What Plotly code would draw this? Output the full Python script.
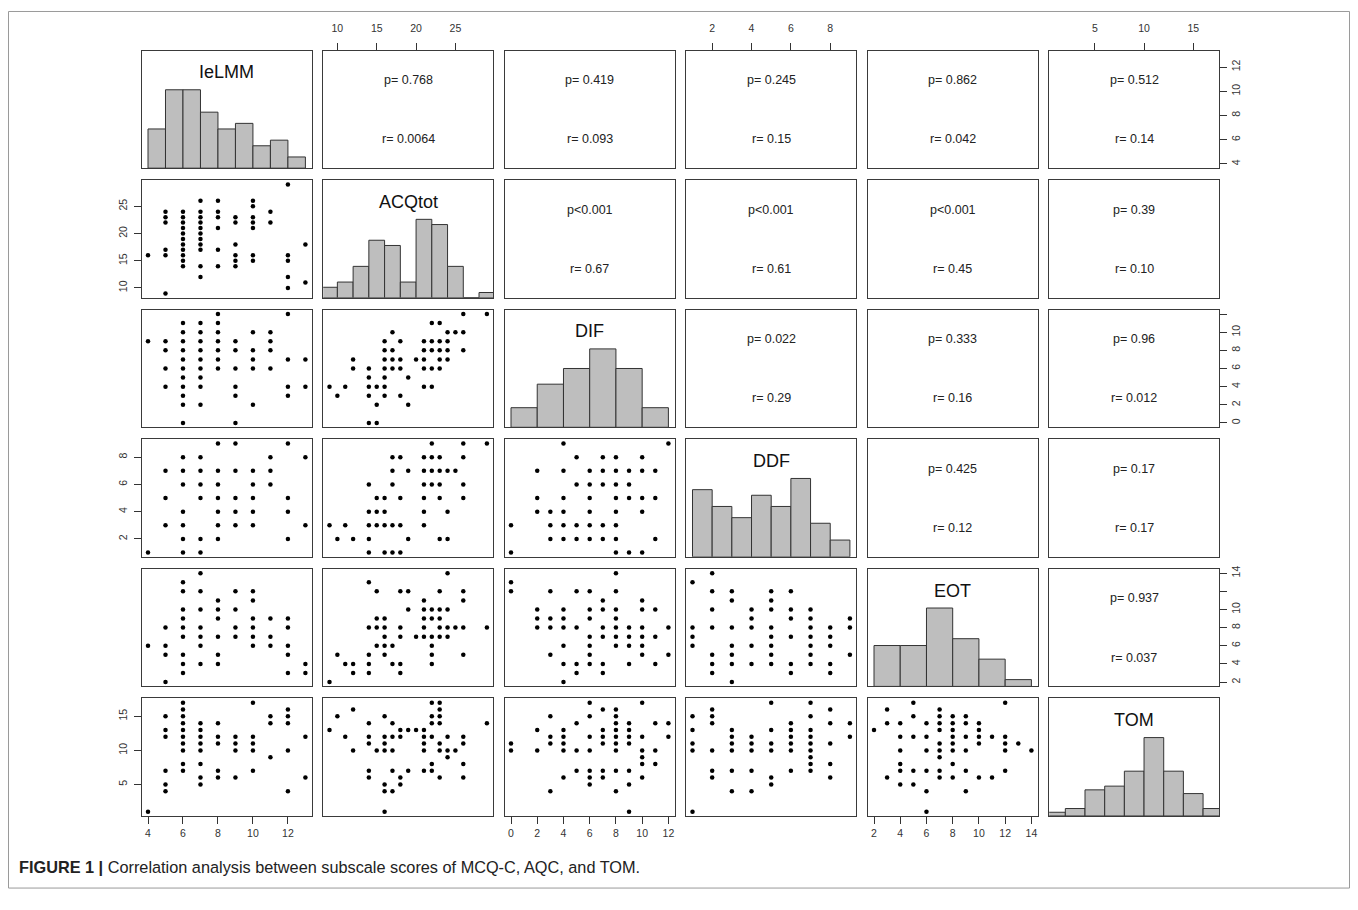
import plotly.graph_objects as go

# ---------------- data ----------------
var_names = ["IeLMM", "ACQtot", "DIF", "DDF", "EOT", "TOM"]
var_min = [4, 9, 0, 1, 2, 1]
var_max = [13, 29, 12, 9, 14, 17]

# histogram breaks (start, step) and counts
hist_start = [4, 8, 0, 1, 2, 0]
hist_step = [1, 2, 2, 1, 2, 2]
IeLMM_counts = [7, 14, 14, 10, 7, 8, 4, 5, 2]
ACQtot_counts = [2, 3, 6, 11, 10, 3, 15, 14, 6, 0, 1]
DIF_counts = [5, 11, 15, 20, 15, 5]
DDF_counts = [12, 9, 7, 11, 9, 14, 6, 3]
EOT_counts = [12, 12, 23, 14, 8, 2]
TOM_counts = [1, 2, 7, 8, 12, 21, 12, 6, 2]
hist_counts = [IeLMM_counts, ACQtot_counts, DIF_counts, DDF_counts, EOT_counts, TOM_counts]

# tick values and labels per variable
IeLMM_ticks = [4, 6, 8, 10, 12]
ACQtot_ticks = [10, 15, 20, 25]
DIF_ticks = [0, 2, 4, 6, 8, 10, 12]
DDF_ticks = [2, 4, 6, 8]
EOT_ticks = [2, 4, 6, 8, 10, 12, 14]
TOM_ticks = [5, 10, 15]
var_ticks = [IeLMM_ticks, ACQtot_ticks, DIF_ticks, DDF_ticks, EOT_ticks, TOM_ticks]
# labels that R drops on the vertical (right) axis because they overlap
right_dropped = {2: [12], 4: [12]}

# scatter points: {x value: [y values]}
IeLMM_ACQ = {4: [16], 5: [24, 23, 22, 17, 16, 9], 6: [24, 23, 22, 21, 20, 19, 18, 17, 16, 15, 14],
             7: [26, 24, 23, 22, 21, 20, 19, 18, 17, 14, 12], 8: [26, 24, 23, 21, 17, 14],
             9: [23, 22, 18, 16, 15, 14], 10: [26, 25, 23, 22, 21, 16, 15], 11: [24, 22],
             12: [29, 16, 15, 12, 10], 13: [18, 11]}
IeLMM_DIF = {4: [9], 5: [9, 8, 6, 4], 6: [11, 10, 9, 8, 7, 6, 5, 4, 3, 2, 0],
             7: [11, 10, 9, 8, 7, 6, 5, 4, 2], 8: [12, 11, 10, 9, 8, 7, 6], 9: [9, 8, 6, 4, 3, 0],
             10: [10, 8, 7, 6, 2], 11: [10, 9, 8, 6], 12: [12, 7, 4, 3], 13: [7, 4]}
ACQ_DIF = {9: [4], 10: [3], 11: [4], 12: [7, 6], 14: [6, 5, 4, 3, 0], 15: [4, 2, 0],
           16: [9, 8, 7, 6, 5, 4, 3], 17: [10, 8, 7, 6], 18: [9, 7, 6, 3], 19: [5, 2], 20: [7],
           21: [9, 8, 7, 6, 4], 22: [11, 9, 8, 6, 4], 23: [11, 9, 8, 7, 6], 24: [10, 9, 8, 7],
           25: [10], 26: [12, 10, 8], 29: [12]}
IeLMM_DDF = {4: [1], 5: [7, 5, 3], 6: [8, 7, 6, 4, 3, 2, 1], 7: [8, 7, 6, 5, 2, 1],
             8: [9, 7, 6, 5, 4, 3, 2], 9: [9, 7, 5, 4, 3], 10: [7, 6, 5, 4, 3], 11: [8, 7, 6],
             12: [9, 5, 4, 2], 13: [8, 3]}
ACQ_DDF = {9: [3], 10: [2], 11: [3], 12: [2], 14: [6, 4, 3, 2, 1], 15: [5, 4, 3], 16: [5, 4, 3, 1],
           17: [8, 7, 6, 3, 1], 18: [8, 5, 3, 1], 19: [7, 2], 21: [8, 7, 6, 5, 4, 3], 22: [9, 8, 7, 6],
           23: [8, 7, 6, 5, 2], 24: [7, 4, 2], 25: [7], 26: [9, 8, 6, 5], 29: [9]}
DIF_DDF = {0: [3, 1], 2: [7, 5, 4], 3: [4, 3, 2], 4: [9, 7, 5, 4, 3, 2], 5: [8, 6, 3, 2],
           6: [7, 6, 5, 4, 3, 2], 7: [8, 7, 6, 3, 2], 8: [8, 7, 6, 5, 4, 3, 2, 1], 9: [7, 6, 5, 1],
           10: [8, 7, 5, 4, 1], 11: [7, 5, 2], 12: [9]}
IeLMM_EOT = {4: [6], 5: [8, 6, 5, 2], 6: [13, 12, 10, 9, 8, 7, 5, 4, 3], 7: [14, 12, 10, 8, 7, 6, 4],
             8: [11, 10, 9, 7, 5, 4], 9: [12, 10, 8, 7], 10: [12, 11, 9, 8, 7, 6], 11: [9, 7, 6],
             12: [9, 8, 6, 5, 3], 13: [4, 3]}
ACQ_EOT = {9: [2], 10: [5], 11: [4], 12: [4, 3], 14: [13, 8, 5, 4, 3], 15: [12, 9, 8, 6],
           16: [9, 8, 7, 6, 5], 17: [6, 4], 18: [12, 8, 7, 4, 3], 19: [12, 10], 20: [7],
           21: [11, 10, 9, 8, 7], 22: [10, 9, 7, 6, 5, 4], 23: [12, 10, 9, 8, 7], 24: [14, 10, 8, 7],
           25: [8], 26: [12, 11, 8, 5], 29: [8]}
DIF_EOT = {0: [13, 12], 2: [10, 9, 8], 3: [12, 9, 8, 5], 4: [10, 9, 8, 6, 4, 2], 5: [12, 8, 4, 3],
           6: [12, 10, 9, 7, 6, 5, 4], 7: [11, 10, 8, 7, 4, 3], 8: [14, 12, 10, 9, 8, 7, 6],
           9: [8, 7, 6, 4], 10: [11, 10, 8, 7, 6, 5], 11: [10, 7, 4], 12: [8, 5]}
DDF_EOT = {1: [13, 8, 7, 6], 2: [14, 12, 10, 8, 5, 4, 3], 3: [12, 11, 8, 6, 5, 4, 2], 4: [10, 9, 8, 6, 4],
           5: [12, 11, 10, 8, 7, 6, 5, 4], 6: [12, 10, 9, 7, 4, 3], 7: [10, 9, 8, 7, 6, 5, 4],
           8: [8, 7, 6, 4, 3], 9: [9, 8, 5]}
IeLMM_TOM = {4: [1], 5: [15, 13, 12, 7, 5, 4], 6: [17, 16, 15, 14, 13, 12, 11, 10, 8, 7],
             7: [14, 13, 12, 11, 10, 8, 6, 5], 8: [14, 12, 11, 7, 6], 9: [12, 11, 10, 6],
             10: [17, 12, 11, 10, 7], 11: [15, 14, 9], 12: [16, 15, 14, 10, 4], 13: [12, 6]}
ACQ_TOM = {9: [13], 10: [15], 11: [12], 12: [16, 10], 14: [14, 12, 11, 7, 6], 15: [10],
           16: [15, 12, 11, 10, 5, 4, 1], 17: [14, 12, 10, 7, 4], 18: [13, 12, 6, 5], 19: [13, 7],
           20: [13], 21: [13, 12, 11, 10, 7], 22: [17, 15, 14, 12, 8, 7], 23: [17, 16, 15, 14, 11, 10, 6],
           24: [12, 10, 9], 25: [10], 26: [12, 11, 8, 6], 29: [14]}
DIF_TOM = {0: [11, 10], 2: [13, 10], 3: [15, 12, 11, 4], 4: [13, 12, 11, 10, 6], 5: [14, 10, 7],
           6: [17, 15, 12, 10, 7, 6, 5], 7: [16, 13, 12, 11, 7, 6], 8: [16, 15, 14, 13, 12, 11, 10, 7, 4],
           9: [14, 13, 12, 11, 7, 5, 1], 10: [17, 12, 10, 9, 8, 6], 11: [14, 10, 8], 12: [14, 12]}
DDF_TOM = {1: [15, 13, 11, 10, 1], 2: [16, 15, 14, 10, 7, 6], 3: [13, 12, 11, 10, 7, 4],
           4: [12, 11, 10, 7, 4], 5: [17, 13, 11, 10, 6, 5], 6: [14, 13, 12, 11, 10, 7],
           7: [17, 15, 13, 12, 11, 10, 9, 8, 7], 8: [16, 14, 11, 8, 6], 9: [14, 12]}
EOT_TOM = {2: [13], 3: [16, 14, 6], 4: [14, 12, 10, 8, 7, 5], 5: [17, 15, 12, 7, 5],
           6: [14, 12, 10, 7, 4, 1], 7: [16, 15, 14, 13, 11, 10, 9, 7, 6], 8: [15, 14, 13, 12, 11, 10, 8, 6],
           9: [15, 14, 12, 10, 7, 4], 10: [14, 13, 12, 11, 6], 11: [12, 6], 12: [17, 12, 11, 10, 7],
           13: [11], 14: [10]}

scatter_panels = {(1, 0): IeLMM_ACQ, (2, 0): IeLMM_DIF, (2, 1): ACQ_DIF,
                  (3, 0): IeLMM_DDF, (3, 1): ACQ_DDF, (3, 2): DIF_DDF,
                  (4, 0): IeLMM_EOT, (4, 1): ACQ_EOT, (4, 2): DIF_EOT, (4, 3): DDF_EOT,
                  (5, 0): IeLMM_TOM, (5, 1): ACQ_TOM, (5, 2): DIF_TOM, (5, 3): DDF_TOM, (5, 4): EOT_TOM}

p_texts = {(0, 1): "p= 0.768", (0, 2): "p= 0.419", (0, 3): "p= 0.245", (0, 4): "p= 0.862", (0, 5): "p= 0.512",
           (1, 2): "p<0.001", (1, 3): "p<0.001", (1, 4): "p<0.001", (1, 5): "p= 0.39",
           (2, 3): "p= 0.022", (2, 4): "p= 0.333", (2, 5): "p= 0.96",
           (3, 4): "p= 0.425", (3, 5): "p= 0.17", (4, 5): "p= 0.937"}
r_texts = {(0, 1): "r= 0.0064", (0, 2): "r= 0.093", (0, 3): "r= 0.15", (0, 4): "r= 0.042", (0, 5): "r= 0.14",
           (1, 2): "r= 0.67", (1, 3): "r= 0.61", (1, 4): "r= 0.45", (1, 5): "r= 0.10",
           (2, 3): "r= 0.29", (2, 4): "r= 0.16", (2, 5): "r= 0.012",
           (3, 4): "r= 0.12", (3, 5): "r= 0.17", (4, 5): "r= 0.037"}

caption_bold = "FIGURE 1 |"
caption_text = "Correlation analysis between subscale scores of MCQ-C, AQC, and TOM."

# ---------------- layout geometry (page pixels) ----------------
W, H = 1342, 894
OFF = 8
COL_L0, COL_STEP, PANEL_W = 141.7, 181.5, 170
ROW_T0, ROW_STEP, PANEL_H = 47.7, 130, 118
FONT = "Liberation Sans, Arial, sans-serif"


def px(x):
    return (x - OFF) / W


def py(y):
    return 1 - (y - OFF) / H


def rng(i):
    d = var_max[i] - var_min[i]
    return [var_min[i] - 0.04 * d, var_max[i] + 0.04 * d]


fig = go.Figure()
layout = dict(width=W, height=H, margin=dict(l=0, r=0, t=0, b=0), showlegend=False,
              paper_bgcolor="white", plot_bgcolor="white", font=dict(family=FONT, color="#222"))
annotations = []

for r in range(6):
    for c in range(6):
        n = r * 6 + c + 1
        sx = "" if n == 1 else str(n)
        x0 = COL_L0 + c * COL_STEP
        y0 = ROW_T0 + r * ROW_STEP
        xa = dict(domain=[px(x0), px(x0 + PANEL_W)], anchor="y" + sx, range=rng(c),
                  showgrid=False, zeroline=False, showline=True, mirror=True,
                  linecolor="#3a3a3a", linewidth=1, ticks="", showticklabels=False,
                  tickfont=dict(size=10.5, color="#333"), tickcolor="#333", ticklen=7)
        ya = dict(domain=[py(y0 + PANEL_H), py(y0)], anchor="x" + sx,
                  range=[0, 1.5] if r == c else rng(r),
                  showgrid=False, zeroline=False, showline=True, mirror=True,
                  linecolor="#3a3a3a", linewidth=1, ticks="", showticklabels=False,
                  tickfont=dict(size=10.5, color="#333"), tickcolor="#333", ticklen=7)
        # outer axes like R pairs()
        if r == 5 and c % 2 == 0:
            xa.update(ticks="outside", showticklabels=True, side="bottom",
                      tickvals=var_ticks[c], ticktext=[str(v) for v in var_ticks[c]])
        if r == 0 and c % 2 == 1:
            xa.update(ticks="outside", showticklabels=True, side="top", ticklabelstandoff=6,
                      tickvals=var_ticks[c], ticktext=[str(v) for v in var_ticks[c]])
        if c == 0 and r % 2 == 1:
            ya.update(ticks="outside", showticklabels=True, side="left", tickangle=-90,
                      ticklabelstandoff=3,
                      tickvals=var_ticks[r], ticktext=[str(v) for v in var_ticks[r]])
        if c == 5 and r % 2 == 0:
            drop = right_dropped.get(r, [])
            ya.update(ticks="outside", showticklabels=True, side="right", tickangle=-90,
                      tickvals=var_ticks[r],
                      ticktext=["" if v in drop else str(v) for v in var_ticks[r]])
        layout["xaxis" + sx] = xa
        layout["yaxis" + sx] = ya

        if r == c:
            counts = hist_counts[r]
            mx = max(counts)
            centers = [hist_start[r] + hist_step[r] * (k + 0.5) for k in range(len(counts))]
            fig.add_trace(go.Bar(x=centers, y=[v / mx for v in counts], width=hist_step[r],
                                 marker=dict(color="#BEBEBE", line=dict(color="#333", width=1)),
                                 xaxis="x" + sx, yaxis="y" + sx, hoverinfo="skip"))
            annotations.append(dict(text=var_names[r], xref="x%s domain" % sx, yref="y%s domain" % sx,
                                    x=0.5, y=0.815, xanchor="center", yanchor="middle", showarrow=False,
                                    font=dict(size=18, color="#111")))
        elif r > c:
            pts = scatter_panels[(r, c)]
            xs, ys = [], []
            for xv, yl in pts.items():
                for yv in yl:
                    xs.append(xv)
                    ys.append(yv)
            fig.add_trace(go.Scatter(x=xs, y=ys, mode="markers",
                                     marker=dict(size=4.5, color="black"),
                                     xaxis="x" + sx, yaxis="y" + sx, hoverinfo="skip"))
        else:
            # invisible anchor so the empty text panel (frame and outer axes) is drawn
            fig.add_trace(go.Scatter(x=[var_min[c]], y=[var_min[r]], mode="markers",
                                     marker=dict(size=1, color="rgba(0,0,0,0)"),
                                     xaxis="x" + sx, yaxis="y" + sx, hoverinfo="skip"))
            annotations.append(dict(text=p_texts[(r, c)], xref="x%s domain" % sx, yref="y%s domain" % sx,
                                    x=0.5, y=0.75, xanchor="center", yanchor="middle", showarrow=False,
                                    font=dict(size=12.5, color="#222")))
            annotations.append(dict(text=r_texts[(r, c)], xref="x%s domain" % sx, yref="y%s domain" % sx,
                                    x=0.5, y=0.245, xanchor="center", yanchor="middle", showarrow=False,
                                    font=dict(size=12.5, color="#222")))

annotations.append(dict(text="<b>%s</b> %s" % (caption_bold, caption_text), xref="paper", yref="paper",
                        x=px(17), y=py(867), xanchor="left", yanchor="middle", showarrow=False,
                        font=dict(size=16.3, color="#222")))
layout["annotations"] = annotations
layout["shapes"] = [dict(type="rect", xref="paper", yref="paper",
                         x0=px(8.5), x1=px(1349.5), y0=py(888), y1=py(8.5),
                         line=dict(color="#9a9a9a", width=1), fillcolor="rgba(0,0,0,0)")]
fig.update_layout(**layout)
fig.write_html("out.html")
